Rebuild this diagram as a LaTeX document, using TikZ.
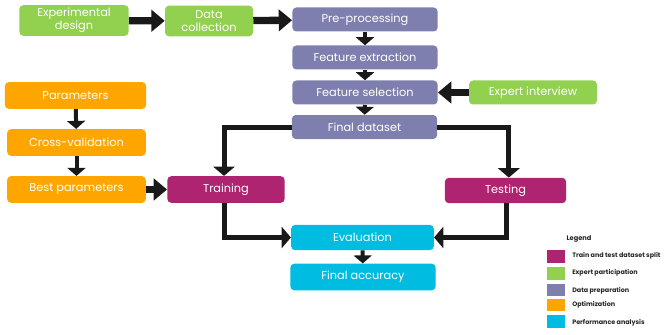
\documentclass[tikz,border=0pt]{standalone}
\usepackage{fontspec}
\setmainfont{Poppins}
\usetikzlibrary{arrows.meta}

\definecolor{expgreen}{HTML}{92D050}
\definecolor{prepblue}{HTML}{7F7FAF}
\definecolor{optorange}{HTML}{FFA500}
\definecolor{splitpink}{HTML}{AE2470}
\definecolor{perfcyan}{HTML}{00BCE0}

\begin{document}
\begin{tikzpicture}[
    x=0.75pt, y=-0.75pt,
    box/.style={rectangle, rounded corners=3pt, text=white, inner sep=1pt,
                minimum height=18pt, align=center, font=\fontsize{8.5}{9}\selectfont},
    swatch/.style={rectangle, minimum width=13.5pt, minimum height=9.5pt, inner sep=0pt},
    legtext/.style={anchor=west, inner sep=0pt, text=black!85, font=\bfseries\fontsize{4.8}{5}\selectfont},
    widearrow/.style={-{Triangle[length=10pt, width=16pt]}, line width=5.5pt, black!90},
    bigarrow/.style={-{Triangle[length=7pt, width=16pt]}, line width=3.75pt, black!90},
    smallarrow/.style={-{Triangle[length=6pt, width=13.5pt]}, line width=3pt, black!90}
]
\useasboundingbox (0,0) rectangle (664,335);

% Expert participation boxes
\node[box, fill=expgreen, minimum width=82pt, minimum height=23pt] (exp) at (74,20.5) {Experimental\\[0.5pt]design};
\node[box, fill=expgreen, minimum width=66pt, minimum height=23pt] (datacoll) at (209,21) {Data\\[0.5pt]collection};
\node[box, fill=expgreen, minimum width=96pt] (expert) at (533,92.5) {Expert interview};

% Data preparation column
\node[box, fill=prepblue, minimum width=109pt] (preproc) at (365,19.5) {Pre-processing};
\node[box, fill=prepblue, minimum width=109pt] (featext) at (365,57.5) {Feature extraction};
\node[box, fill=prepblue, minimum width=109pt] (featsel) at (365,92.5) {Feature selection};
\node[box, fill=prepblue, minimum width=109pt] (final) at (364.5,127) {Final dataset};

% Optimization column
\node[box, fill=optorange, minimum width=106pt, minimum height=20pt] (params) at (75.5,95.5) {Parameters};
\node[box, fill=optorange, minimum width=104pt, minimum height=20pt] (crossval) at (76.5,142.5) {Cross-validation};
\node[box, fill=optorange, minimum width=104pt, minimum height=20pt] (bestparams) at (76.5,189.5) {Best parameters};

% Train and test split
\node[box, fill=splitpink, minimum width=88pt, minimum height=20pt] (training) at (226,189.5) {Training};
\node[box, fill=splitpink, minimum width=91pt, minimum height=19pt] (testing) at (505.5,190.5) {Testing};

% Performance analysis
\node[box, fill=perfcyan, minimum width=107pt, minimum height=19pt] (eval) at (362.5,237.5) {Evaluation};
\node[box, fill=perfcyan, minimum width=109pt, minimum height=20pt] (accuracy) at (363,277) {Final accuracy};

% Arrows of the top row
\draw[widearrow] (exp) -- (datacoll);
\draw[widearrow] (datacoll) -- (preproc);
\draw[widearrow] (expert) -- (featsel);

% Arrows down the data preparation column
\draw[smallarrow] (preproc) -- (featext);
\draw[smallarrow] (featext) -- (featsel);
\draw[smallarrow] (featsel) -- (final);

% Arrows down the optimization column
\draw[smallarrow] (params) -- (crossval);
\draw[smallarrow] (crossval) -- (bestparams);
\draw[widearrow] (bestparams) -- (training);

% Final dataset splits into training and testing
\draw[bigarrow] (final.west) -| ([xshift=-1.5pt]training.north);
\draw[bigarrow] (final.east) -| ([xshift=2.5pt]testing.north);

% Both feed the evaluation
\draw[bigarrow] ([xshift=-1.5pt]training.south) |- (eval.west);
\draw[bigarrow] ([xshift=1pt]testing.south) |- (eval.east);
\draw[smallarrow] (eval) -- (accuracy);

% Legend
\node[inner sep=0pt, text=black!85, font=\bfseries\fontsize{5}{5}\selectfont] (legtitle) at (579,239) {Legend};
\node[swatch, fill=splitpink] (leg1) at (556,256.5) {};
\node[swatch, fill=expgreen] (leg2) at (556,273.5) {};
\node[swatch, fill=prepblue] (leg3) at (556,290) {};
\node[swatch, fill=optorange] (leg4) at (556,305) {};
\node[swatch, fill=perfcyan] (leg5) at (556,321.5) {};
\node[legtext] (legt1) at (572,256) {Train and test dataset split};
\node[legtext] (legt2) at (572,273) {Expert participation};
\node[legtext] (legt3) at (572,291) {Data preparation};
\node[legtext] (legt4) at (572,305) {Optimization};
\node[legtext] (legt5) at (572,323) {Performance analysis};

\end{tikzpicture}
\end{document}
